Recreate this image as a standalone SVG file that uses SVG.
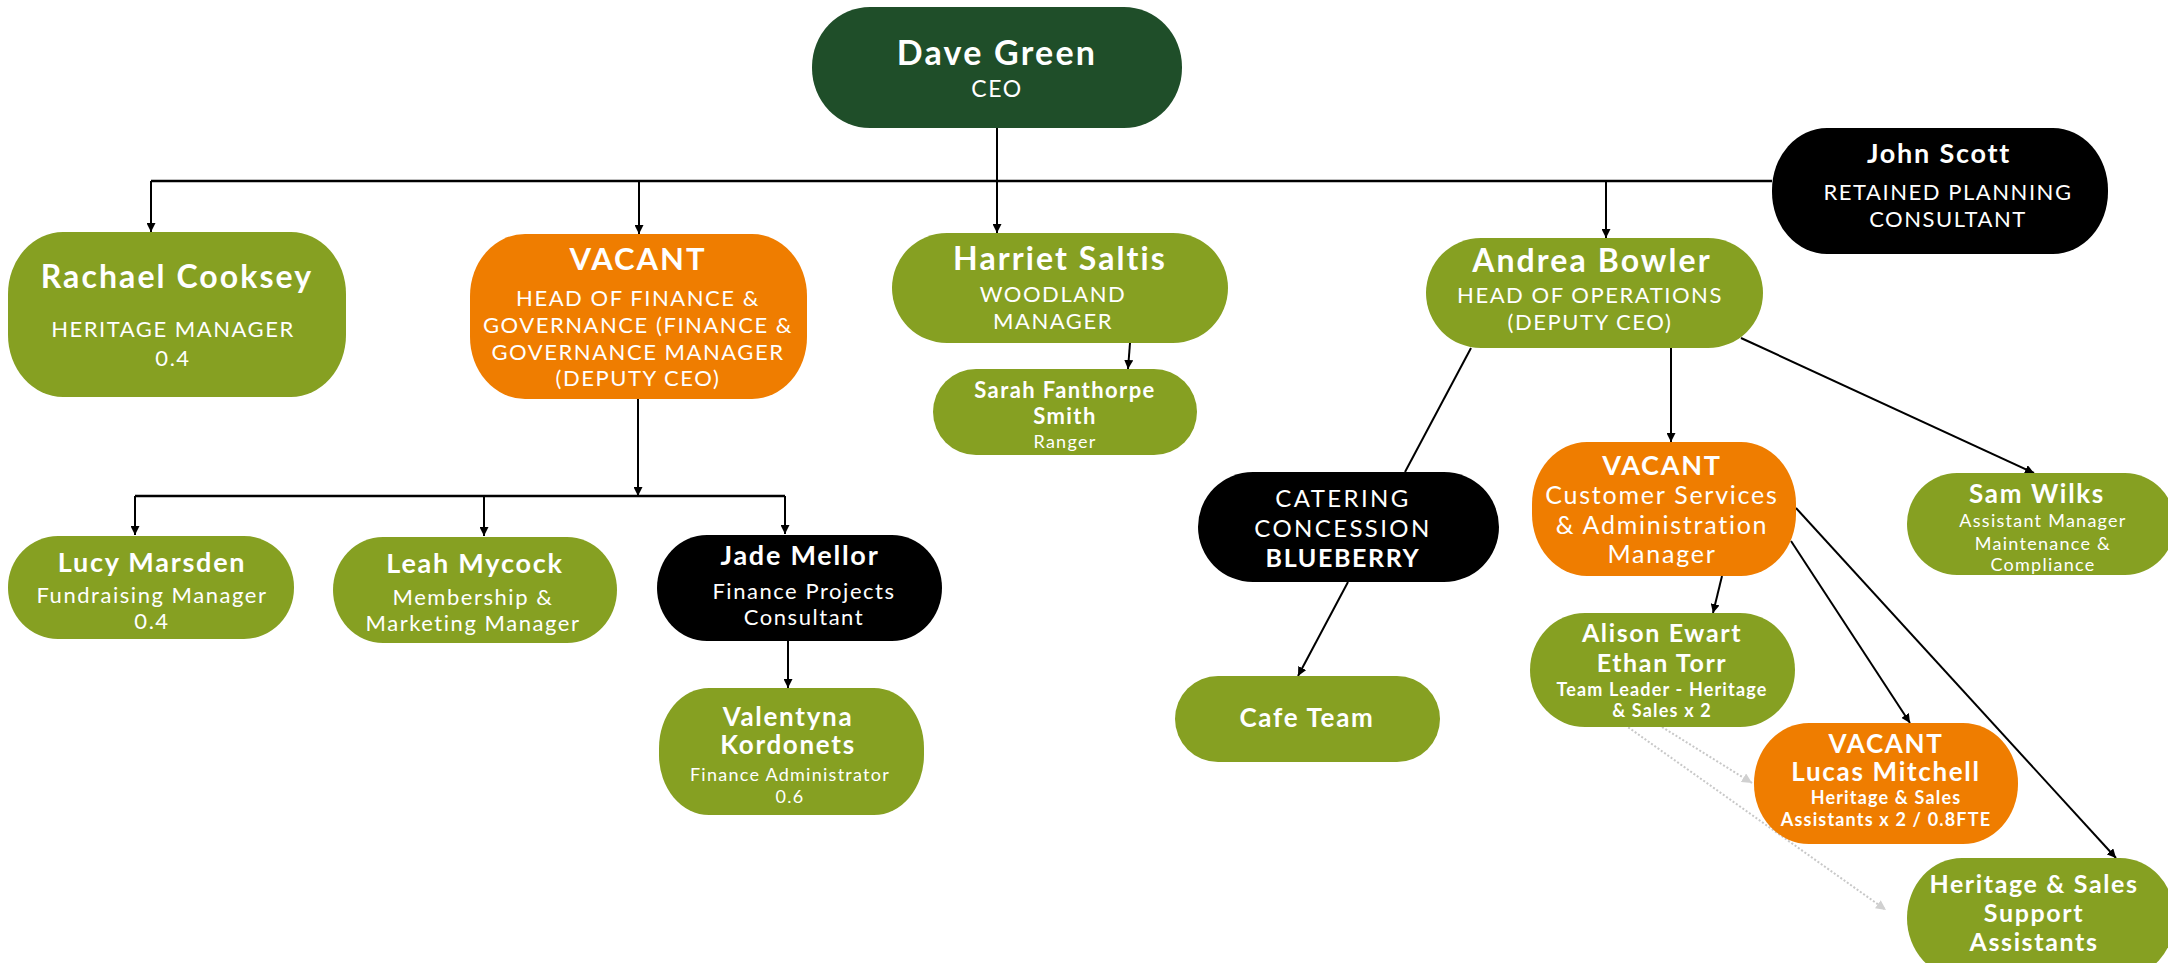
<svg xmlns="http://www.w3.org/2000/svg" width="2168" height="963" viewBox="0 0 2168 963">
<defs>
<style>
.g{fill:#86A022}.o{fill:#EF7D00}.k{fill:#000}.d{fill:#1F4E29}
text{font-family:Lato,"Open Sans","Liberation Sans",sans-serif;fill:#fff;text-anchor:middle}
.b{font-weight:700;letter-spacing:0.065em}
.r{font-weight:400;letter-spacing:0.07em}
.c{fill:none;stroke:#000;stroke-width:2}
.a{marker-end:url(#ah)}
.dot{fill:none;stroke:#c8c8c8;stroke-width:2;stroke-dasharray:2 2;marker-end:url(#ahg)}
</style>
<marker id="ah" viewBox="0 0 10 10" refX="10" refY="5" markerWidth="9" markerHeight="9" markerUnits="userSpaceOnUse" orient="auto"><path d="M0,0 L10,5 L0,10 z" fill="#000"/></marker>
<marker id="ahg" viewBox="0 0 10 10" refX="10" refY="5" markerWidth="10" markerHeight="10" markerUnits="userSpaceOnUse" orient="auto"><path d="M0,0 L10,5 L0,10 z" fill="#d0d0d0"/></marker>
</defs>
<rect width="2168" height="963" fill="#fff"/>
<g id="connectors">
<line class="c" x1="151" y1="181" x2="1772" y2="181" style="stroke-width:2.6"/>
<line class="c a" x1="151" y1="181" x2="151" y2="232"/>
<line class="c a" x1="639" y1="181" x2="639" y2="234"/>
<line class="c a" x1="997" y1="128" x2="997" y2="233"/>
<line class="c a" x1="1606" y1="181" x2="1606" y2="238"/>
<line class="c a" x1="638" y1="399" x2="638" y2="496"/>
<line class="c" x1="135" y1="496" x2="785" y2="496" style="stroke-width:2.4"/>
<line class="c a" x1="135" y1="496" x2="135" y2="535"/>
<line class="c a" x1="484" y1="496" x2="484" y2="536"/>
<line class="c a" x1="785" y1="496" x2="785" y2="534"/>
<line class="c a" x1="788" y1="641" x2="788" y2="688"/>
<line class="c a" x1="1130" y1="343" x2="1128" y2="369"/>
<line class="c" x1="1471" y1="348" x2="1405" y2="472"/>
<line class="c a" x1="1348" y1="582" x2="1298" y2="676"/>
<line class="c a" x1="1671" y1="343" x2="1671" y2="442"/>
<line class="c a" x1="1741" y1="338" x2="2034" y2="473"/>
<line class="c a" x1="1722" y1="576" x2="1713" y2="613"/>
<line class="c a" x1="1791" y1="541" x2="1910" y2="723"/>
<line class="c a" x1="1796" y1="508" x2="2116" y2="858"/>
<line class="dot" x1="1625" y1="725" x2="1886" y2="910"/>
<line class="dot" x1="1662" y1="727" x2="1752" y2="783"/>
</g>
<g id="dave">
<rect class="d" x="812" y="7" width="370" height="121" rx="58" ry="60"/>
<text class="b" x="997" y="65" font-size="34">Dave Green</text>
<text class="r" x="997" y="97" font-size="23">CEO</text>
</g>
<g id="rachael">
<rect class="g" x="8" y="232" width="338" height="165" rx="55" ry="62"/>
<text class="b" x="177" y="288" font-size="32">Rachael Cooksey</text>
<text class="r" x="173" y="337" font-size="22">HERITAGE MANAGER</text>
<text class="r" x="173" y="366" font-size="22">0.4</text>
</g>
<g id="vacant-finance">
<rect class="o" x="470" y="234" width="337" height="165" rx="55" ry="62"/>
<text class="b" x="638" y="270" font-size="31">VACANT</text>
<text class="r" x="638" y="306" font-size="22">HEAD OF FINANCE &amp;</text>
<text class="r" x="638" y="333" font-size="22">GOVERNANCE (FINANCE &amp;</text>
<text class="r" x="638" y="360" font-size="22">GOVERNANCE MANAGER</text>
<text class="r" x="638" y="386" font-size="22">(DEPUTY CEO)</text>
</g>
<g id="harriet">
<rect class="g" x="892" y="233" width="336" height="110" rx="55" ry="55"/>
<text class="b" x="1060" y="270" font-size="32">Harriet Saltis</text>
<text class="r" x="1053" y="302" font-size="22">WOODLAND</text>
<text class="r" x="1053" y="329" font-size="22">MANAGER</text>
</g>
<g id="sarah">
<rect class="g" x="933" y="369" width="264" height="86" rx="43" ry="43"/>
<text class="b" x="1065" y="398" font-size="22">Sarah Fanthorpe</text>
<text class="b" x="1065" y="424" font-size="22">Smith</text>
<text class="r" x="1065" y="448" font-size="18">Ranger</text>
</g>
<g id="andrea">
<rect class="g" x="1426" y="238" width="337" height="110" rx="55" ry="55"/>
<text class="b" x="1592" y="272" font-size="32">Andrea Bowler</text>
<text class="r" x="1590" y="303" font-size="22">HEAD OF OPERATIONS</text>
<text class="r" x="1590" y="330" font-size="22">(DEPUTY CEO)</text>
</g>
<g id="john">
<rect class="k" x="1772" y="128" width="336" height="126" rx="55" ry="62"/>
<text class="b" x="1939" y="163" font-size="27">John Scott</text>
<text class="r" x="1948" y="200" font-size="22">RETAINED PLANNING</text>
<text class="r" x="1948" y="227" font-size="22">CONSULTANT</text>
</g>
<g id="lucy">
<rect class="g" x="8" y="536" width="286" height="103" rx="50" ry="51"/>
<text class="b" x="152" y="572" font-size="27">Lucy Marsden</text>
<text class="r" x="152" y="603" font-size="22">Fundraising Manager</text>
<text class="r" x="152" y="629" font-size="22">0.4</text>
</g>
<g id="leah">
<rect class="g" x="333" y="537" width="284" height="106" rx="50" ry="53"/>
<text class="b" x="475" y="573" font-size="27">Leah Mycock</text>
<text class="r" x="473" y="605" font-size="22">Membership &amp;</text>
<text class="r" x="473" y="631" font-size="22">Marketing Manager</text>
</g>
<g id="jade">
<rect class="k" x="657" y="535" width="285" height="106" rx="50" ry="53"/>
<text class="b" x="800" y="565" font-size="27">Jade Mellor</text>
<text class="r" x="804" y="599" font-size="22">Finance Projects</text>
<text class="r" x="804" y="625" font-size="22">Consultant</text>
</g>
<g id="valentyna">
<rect class="g" x="659" y="688" width="265" height="127" rx="50" ry="60"/>
<text class="b" x="788" y="726" font-size="26">Valentyna</text>
<text class="b" x="788" y="754" font-size="26">Kordonets</text>
<text class="r" x="790" y="781" font-size="18">Finance Administrator</text>
<text class="r" x="790" y="803" font-size="18">0.6</text>
</g>
<g id="catering">
<rect class="k" x="1198" y="472" width="301" height="110" rx="55" ry="55"/>
<text class="r" x="1343" y="507" font-size="24" style="letter-spacing:0.1em">CATERING</text>
<text class="r" x="1343" y="537" font-size="24" style="letter-spacing:0.1em">CONCESSION</text>
<text class="b" x="1343" y="567" font-size="25">BLUEBERRY</text>
</g>
<g id="cafe">
<rect class="g" x="1175" y="676" width="265" height="86" rx="43" ry="43"/>
<text class="b" x="1307" y="727" font-size="26">Cafe Team</text>
</g>
<g id="vacant-cs">
<rect class="o" x="1532" y="442" width="264" height="134" rx="55" ry="62"/>
<text class="b" x="1662" y="475" font-size="27">VACANT</text>
<text class="r" x="1662" y="504" font-size="25">Customer Services</text>
<text class="r" x="1662" y="534" font-size="25">&amp; Administration</text>
<text class="r" x="1662" y="563" font-size="25">Manager</text>
</g>
<g id="sam">
<rect class="g" x="1907" y="473" width="268" height="102" rx="50" ry="51"/>
<text class="b" x="2037" y="503" font-size="26">Sam Wilks</text>
<text class="r" x="2043" y="527" font-size="18">Assistant Manager</text>
<text class="r" x="2043" y="550" font-size="18">Maintenance &amp;</text>
<text class="r" x="2043" y="571" font-size="18">Compliance</text>
</g>
<g id="alison">
<rect class="g" x="1530" y="613" width="265" height="114" rx="55" ry="57"/>
<text class="b" x="1662" y="642" font-size="25">Alison Ewart</text>
<text class="b" x="1662" y="672" font-size="25">Ethan Torr</text>
<text class="b" x="1662" y="696" font-size="18">Team Leader - Heritage</text>
<text class="b" x="1662" y="717" font-size="18">&amp; Sales x 2</text>
</g>
<g id="lucas">
<rect class="o" x="1754" y="723" width="264" height="121" rx="55" ry="60"/>
<text class="b" x="1886" y="753" font-size="26">VACANT</text>
<text class="b" x="1886" y="781" font-size="26">Lucas Mitchell</text>
<text class="b" x="1886" y="804" font-size="18">Heritage &amp; Sales</text>
<text class="b" x="1886" y="826" font-size="18">Assistants x 2 / 0.8FTE</text>
</g>
<g id="heritage-support">
<rect class="g" x="1907" y="858" width="268" height="120" rx="55" ry="60"/>
<text class="b" x="2034" y="893" font-size="25">Heritage &amp; Sales</text>
<text class="b" x="2034" y="922" font-size="25">Support</text>
<text class="b" x="2034" y="951" font-size="25">Assistants</text>
</g>
</svg>
